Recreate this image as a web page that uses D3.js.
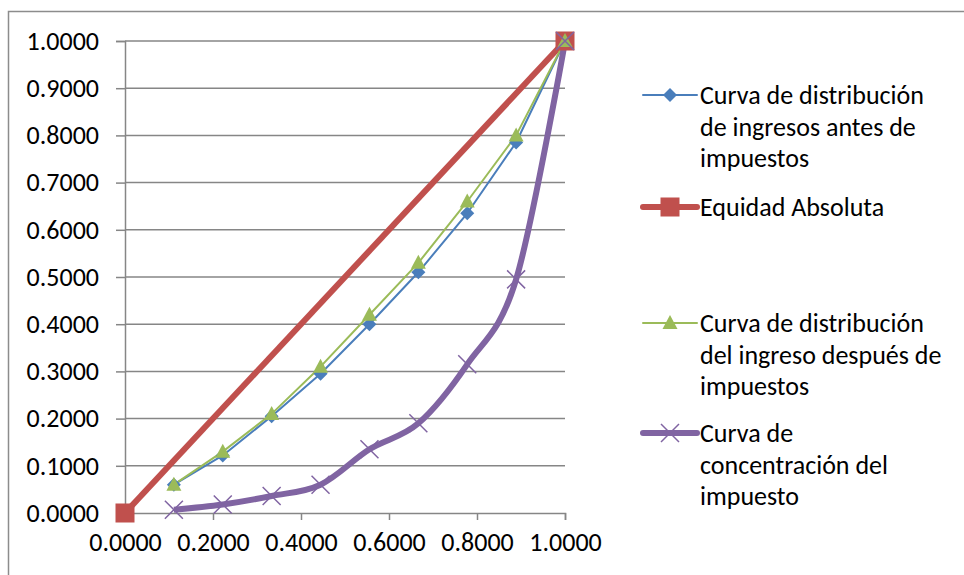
<!DOCTYPE html>
<html>
<head>
<meta charset="utf-8">
<script src="https://cdn.jsdelivr.net/npm/d3@7"></script>
<style>
  body { margin: 0; background: #fff; }
  text { font-family: Carlito, Lato, "Open Sans", sans-serif; fill: #000; }
</style>
</head>
<body>
<div class="chart"></div>
<script>
// quantile shares (x) and the four curves
const xVals = [0.1111, 0.2222, 0.3333, 0.4444, 0.5556, 0.6667, 0.7778, 0.8889, 1.0]
const antes = [0.060, 0.122, 0.205, 0.295, 0.400, 0.510, 0.635, 0.785, 1.0]
const despues = [0.060, 0.130, 0.210, 0.310, 0.420, 0.530, 0.660, 0.800, 1.0]
const concentracion = [0.007, 0.018, 0.036, 0.060, 0.135, 0.190, 0.315, 0.495, 1.0]
const equidadX = [0, 1]
const equidadY = [0, 1]
const yTicks = [0, 0.1, 0.2, 0.3, 0.4, 0.5, 0.6, 0.7, 0.8, 0.9, 1.0]
const xTicks = [0, 0.2, 0.4, 0.6, 0.8, 1.0]
const seriesNames = [
  ["Curva de distribución", "de ingresos antes de", "impuestos"],
  ["Equidad Absoluta"],
  ["Curva de distribución", "del ingreso después de", "impuestos"],
  ["Curva de", "concentración del", "impuesto"]
]

let margin = {top: 41, left: 125}
const width = 440, height = 472
const fontSize = "26px"

const svg = d3.select(".chart").append("svg")
  .attr("width", 964)
  .attr("height", 575)

// outer chart border
svg.append("rect")
  .attr("x", 8.5).attr("y", 11.5)
  .attr("width", 1000).attr("height", 600)
  .attr("fill", "none")
  .attr("stroke", "#8c8c8c")
  .attr("stroke-width", 1.5)

const g = svg.append("g")
  .attr("transform", "translate(" + margin.left + "," + margin.top + ")")

let xScale = d3.scaleLinear().domain([0, 1]).range([0, width])
let yScale = d3.scaleLinear().domain([0, 1]).range([height, 0])
const f = d3.format(".4f")

let yAxis = d3.axisLeft(yScale).tickValues(yTicks).tickFormat(f).tickSize(9).tickPadding(17)
let xAxis = d3.axisBottom(xScale).tickValues(xTicks).tickFormat(f).tickSize(7).tickPadding(13)

// horizontal gridlines
g.append("g")
  .selectAll("line")
  .data(yTicks.filter(d => d > 0))
  .enter().append("line")
  .attr("x1", 0).attr("x2", width)
  .attr("y1", d => yScale(d)).attr("y2", d => yScale(d))
  .attr("stroke", "#868686")
  .attr("stroke-width", 1.5)

g.append("g")
  .attr("class", "axis y-axis")
  .call(yAxis)
  .call(g => g.selectAll("text").attr("font-size", fontSize))

g.append("g")
  .attr("class", "axis x-axis")
  .attr("transform", `translate(0, ${height})`)
  .call(xAxis)
  .call(g => g.selectAll("text").attr("font-size", fontSize).attr("dy", "0.71em"))

g.selectAll(".axis .domain, .axis .tick line")
  .attr("stroke", "#868686")
  .attr("stroke-width", 1.5)
g.selectAll(".axis text").attr("fill", "#000")

const pts = (ys) => xVals.map((x, i) => [x, ys[i]])

const line = d3.line()
  .x(d => xScale(d[0]))
  .y(d => yScale(d[1]))
const smooth = d3.line()
  .x(d => xScale(d[0]))
  .y(d => yScale(d[1]))
  .curve(d3.curveCardinal.tension(0))

const series = [
  {data: pts(antes), color: "#4a7ebb", width: 2, shape: "diamond", gen: line},
  {data: equidadX.map((x, i) => [x, equidadY[i]]), color: "#c0504d", width: 6, shape: "square", gen: line},
  {data: pts(despues), color: "#9bbb59", width: 2, shape: "triangle", gen: line},
  {data: pts(concentracion), color: "#8064a2", width: 6, shape: "x", gen: smooth}
]

function marker(sel, s) {
  if (s.shape === "diamond") {
    sel.append("path").attr("d", "M0,-7L7,0L0,7L-7,0Z").attr("fill", s.color)
  } else if (s.shape === "square") {
    sel.append("rect").attr("x", -9.5).attr("y", -9.5).attr("width", 19).attr("height", 19)
      .attr("fill", s.color)
  } else if (s.shape === "triangle") {
    sel.append("path").attr("d", "M0,-8L7.5,6L-7.5,6Z").attr("fill", s.color)
  } else {
    sel.append("path").attr("d", "M-9,-9L9,9M-9,9L9,-9")
      .attr("stroke", s.color).attr("stroke-width", 1.5).attr("fill", "none")
  }
}

series.forEach(s => {
  g.append("path")
    .datum(s.data)
    .attr("d", s.gen)
    .attr("fill", "none")
    .attr("stroke", s.color)
    .attr("stroke-width", s.width)
    .attr("stroke-linejoin", "round")
})

series.forEach(s => {
  g.selectAll(null)
    .data(s.data)
    .enter()
    .append("g")
    .attr("transform", d => `translate(${xScale(d[0])},${yScale(d[1])})`)
    .each(function() { marker(d3.select(this), s) })
})

// legend
const legendY = [95, 207, 323, 433]
const legend = svg.append("g")
series.forEach((s, i) => {
  const item = legend.append("g").attr("transform", `translate(643,${legendY[i]})`)
  item.append("line")
    .attr("x1", 0).attr("x2", 54)
    .attr("stroke", s.color)
    .attr("stroke-width", s.width)
    .attr("stroke-linecap", "round")
  const m = item.append("g").attr("transform", "translate(27,0)")
  marker(m, s)
  const t = item.append("text")
    .attr("x", 57)
    .attr("font-size", fontSize)
  seriesNames[i].forEach((w, j) => {
    t.append("tspan")
      .attr("x", 57)
      .attr("y", j * 31.5)
      .attr("dy", "0.35em")
      .text(w)
  })
})
</script>
</body>
</html>
